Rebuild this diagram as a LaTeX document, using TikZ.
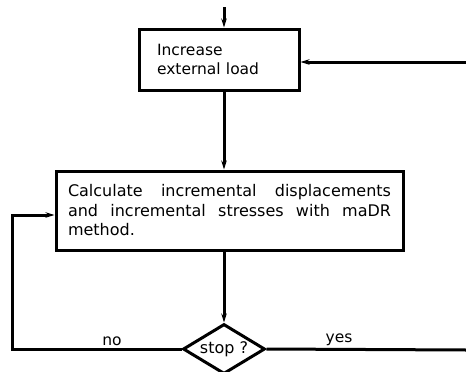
\documentclass[tikz,border=0pt]{standalone}
\usepackage{fontspec}
\setmainfont{DejaVu Sans}
\usetikzlibrary{shapes.geometric,arrows.meta}
\begin{document}
\begin{tikzpicture}[x=1pt,y=-1pt,line width=3pt,
  >={Stealth[length=9pt,width=5.5pt]},
  box/.style={draw,rectangle,font=\fontsize{15.5}{18.5}\selectfont,align=left},
  lbl/.style={font=\fontsize{15.5}{17}\selectfont,inner sep=1pt}]
\useasboundingbox (0,0) rectangle (466,372);
\node (b1) [box, minimum width=160pt, minimum height=61pt, text width=124pt, inner xsep=18pt] at (219,59.5)
  {Increase\\external load};
\node (b2) [box, minimum width=347pt, minimum height=79pt, text width=323pt, inner xsep=12pt, align=justify,
  font=\fontsize{16}{19.5}\selectfont] at (229.5,210.5)
  {Calculate incremental displacements\linebreak and incremental stresses with maDR\linebreak method.};
\node (d) [draw, diamond, aspect=1.64, minimum width=82pt, minimum height=50pt, inner sep=0pt, font=\fontsize{16}{17}\selectfont, fill=white] at (224,349) {stop ?};
\coordinate (top) at (224,7);
\coordinate (rin) at (466,62);
\coordinate (lft) at (12,215);
\coordinate (rout) at (466,350);
\draw[->] (top) -- (b1.north -| top);
\draw[->] (b1.south -| top) -- (b2.north -| top);
\draw[->] (b2.south -| top) -- (d.north);
\draw[->] (rin) -- (b1.east |- rin);
\draw[->] (d.west) -| (lft) -- (b2.west |- lft);
\draw (d.east) -- (rout);
\node (no) [lbl, anchor=south] at (112,348) {no};
\node (yes) [lbl, anchor=south] at (339,348) {yes};
\end{tikzpicture}
\end{document}
